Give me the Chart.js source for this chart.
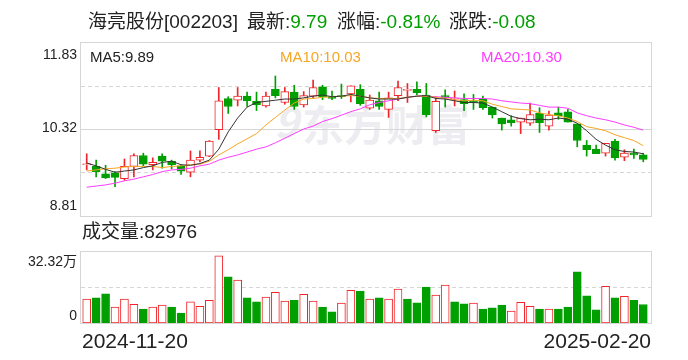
<!DOCTYPE html>
<html>
<head>
<meta charset="utf-8">
<script src="https://cdn.jsdelivr.net/npm/chart.js@4.4.1/dist/chart.umd.min.js"></script>
<style>
  body { margin: 0; background: #fff; }
  #wrap { position: relative; width: 688px; height: 360px; }
  canvas { position: absolute; left: 0; top: 0; }
</style>
</head>
<body>
<div id="wrap">
  <canvas id="kline" width="688" height="360"></canvas>
  <canvas id="vol" width="688" height="360"></canvas>
</div>
<script>
// 日付（60営業日）
const dates = [
  '2024-11-20','2024-11-21','2024-11-22','2024-11-25','2024-11-26','2024-11-27','2024-11-28','2024-11-29',
  '2024-12-02','2024-12-03','2024-12-04','2024-12-05','2024-12-06','2024-12-09','2024-12-10','2024-12-11',
  '2024-12-12','2024-12-13','2024-12-16','2024-12-17','2024-12-18','2024-12-19','2024-12-20','2024-12-23',
  '2024-12-24','2024-12-25','2024-12-26','2024-12-27','2024-12-30','2024-12-31','2025-01-02','2025-01-03',
  '2025-01-06','2025-01-07','2025-01-08','2025-01-09','2025-01-10','2025-01-13','2025-01-14','2025-01-15',
  '2025-01-16','2025-01-17','2025-01-20','2025-01-21','2025-01-22','2025-01-23','2025-01-24','2025-01-27',
  '2025-02-05','2025-02-06','2025-02-07','2025-02-10','2025-02-11','2025-02-12','2025-02-13','2025-02-14',
  '2025-02-17','2025-02-18','2025-02-19','2025-02-20'
];

const opens = [
  9.70, 9.67, 9.54, 9.56, 9.46, 9.67, 9.86, 9.70, 9.85, 9.76,
  9.68, 9.57, 9.78, 9.85, 10.31, 10.85, 10.82, 10.89, 10.80, 10.72,
  11.01, 10.78, 10.96, 10.74, 10.89, 11.05, 10.88, 10.90, 10.93, 11.01,
  10.68, 10.81, 10.66, 10.90, 10.99, 11.01, 10.91, 10.29, 10.90, 10.84,
  10.83, 10.81, 10.84, 10.70, 10.51, 10.48, 10.44, 10.42, 10.59, 10.37,
  10.60, 10.62, 10.41, 10.04, 9.97, 9.90, 10.11, 9.83, 9.90, 9.87
];
const highs = [
  9.89, 9.78, 9.69, 9.58, 9.80, 9.89, 9.90, 9.82, 9.89, 9.78,
  9.70, 9.94, 9.94, 10.12, 11.04, 10.88, 11.04, 10.96, 10.96, 10.96,
  11.24, 11.04, 11.08, 10.97, 11.17, 11.08, 10.98, 11.10, 11.07, 11.09,
  10.91, 10.96, 10.96, 11.15, 11.11, 11.14, 11.11, 10.88, 11.00, 10.98,
  10.93, 10.92, 10.89, 10.70, 10.51, 10.55, 10.51, 10.77, 10.69, 10.63,
  10.70, 10.66, 10.41, 10.12, 10.04, 10.07, 10.14, 9.96, 9.97, 9.90
];
const lows = [
  9.61, 9.49, 9.46, 9.32, 9.43, 9.49, 9.68, 9.61, 9.64, 9.63,
  9.53, 9.49, 9.75, 9.84, 10.14, 10.59, 10.72, 10.71, 10.64, 10.70,
  10.86, 10.75, 10.66, 10.70, 10.86, 10.83, 10.83, 10.85, 10.79, 10.73,
  10.66, 10.66, 10.52, 10.81, 10.78, 10.91, 10.53, 10.26, 10.70, 10.72,
  10.64, 10.66, 10.66, 10.51, 10.30, 10.37, 10.24, 10.38, 10.26, 10.30,
  10.49, 10.44, 10.01, 9.85, 9.89, 9.85, 9.78, 9.77, 9.81, 9.75
];
const closes = [
  9.71, 9.58, 9.47, 9.48, 9.67, 9.86, 9.71, 9.74, 9.76, 9.70,
  9.59, 9.78, 9.83, 10.11, 10.81, 10.71, 10.89, 10.81, 10.74, 10.89,
  10.90, 10.97, 10.71, 10.90, 11.04, 10.88, 10.85, 10.88, 11.07, 10.76,
  10.82, 10.71, 10.86, 11.04, 11.01, 10.95, 10.57, 10.80, 10.87, 10.85,
  10.76, 10.78, 10.69, 10.57, 10.41, 10.43, 10.51, 10.57, 10.43, 10.56,
  10.55, 10.44, 10.12, 9.96, 9.89, 10.07, 9.82, 9.90, 9.87, 9.79
];

const ma5 = [
  9.73, 9.68, 9.62, 9.57, 9.59, 9.61, 9.65, 9.68, 9.74, 9.76,
  9.70, 9.69, 9.72, 9.78, 9.97, 10.27, 10.51, 10.70, 10.78, 10.80,
  10.82, 10.84, 10.84, 10.86, 10.89, 10.91, 10.88, 10.89, 10.92, 10.89,
  10.86, 10.84, 10.84, 10.84, 10.87, 10.89, 10.90, 10.85, 10.84, 10.81,
  10.78, 10.78, 10.77, 10.70, 10.62, 10.54, 10.50, 10.48, 10.49, 10.48,
  10.51, 10.49, 10.42, 10.29, 10.14, 10.04, 9.96, 9.93, 9.92, 9.89
];
const ma10 = [
  9.59, 9.61, 9.63, 9.64, 9.66, 9.67, 9.67, 9.67, 9.65, 9.67,
  9.68, 9.70, 9.71, 9.76, 9.87, 9.96, 10.06, 10.15, 10.24, 10.39,
  10.52, 10.65, 10.77, 10.84, 10.85, 10.87, 10.88, 10.89, 10.90, 10.89,
  10.86, 10.85, 10.85, 10.85, 10.87, 10.89, 10.89, 10.87, 10.85, 10.83,
  10.81, 10.82, 10.81, 10.75, 10.71, 10.67, 10.66, 10.65, 10.60, 10.57,
  10.55, 10.51, 10.45, 10.36, 10.33, 10.29, 10.22, 10.17, 10.12, 10.03
];
const ma20 = [
  9.31, 9.33, 9.35, 9.38, 9.42, 9.45, 9.49, 9.53, 9.58, 9.61,
  9.62, 9.64, 9.68, 9.71, 9.78, 9.83, 9.87, 9.92, 9.97, 10.01,
  10.08, 10.16, 10.24, 10.32, 10.37, 10.45, 10.50, 10.56, 10.62, 10.67,
  10.74, 10.78, 10.81, 10.84, 10.87, 10.89, 10.89, 10.88, 10.87, 10.86,
  10.85, 10.85, 10.85, 10.84, 10.81, 10.79, 10.77, 10.76, 10.73, 10.70,
  10.70, 10.68, 10.60, 10.55, 10.51, 10.48, 10.44, 10.39, 10.35, 10.30
];

// 成交量（万手）
const volumes = [
  10.7, 11.3, 13.1, 7.1, 10.7, 8.4, 6.2, 7.1, 8.0, 7.1,
  4.5, 9.5, 7.5, 10.2, 30.2, 20.7, 19.3, 11.3, 9.5, 11.6,
  13.8, 9.8, 10.2, 12.9, 9.8, 7.1, 5.0, 8.9, 14.7, 14.3,
  10.7, 11.3, 10.7, 15.2, 10.7, 9.0, 16.1, 12.5, 17.0, 9.5,
  8.6, 8.9, 6.3, 6.8, 8.0, 5.3, 9.3, 7.5, 6.3, 6.2,
  6.3, 7.2, 23.0, 12.2, 5.9, 16.5, 11.3, 12.0, 10.2, 8.3
];

const priceTicks = [8.81, 10.32, 11.83];
const volTicks = [0, 32.32];
const dateTicks = ['2024-11-20', '2025-02-20'];

const stockName = '海亮股份[002203]';
const latest = '9.79';
const changePct = '-0.81%';
const change = '-0.08';
const latestVolume = 82976;

const RED = '#f0252a';
const GREEN = '#009f00';
const GRID = '#d6d6d6';
const FONT = '"Liberation Sans", "Noto Sans CJK SC", sans-serif';

const candleUp = closes.map((c, i) => c >= opens[i]);
const volUp = closes.map((c, i) => i === 0 ? c >= opens[0] : c >= closes[i - 1]);

function drawFrame(ctx, area) {
    ctx.save();
    ctx.strokeStyle = GRID;
    ctx.lineWidth = 1;
    ctx.strokeRect(area.left - 1.5, area.top + 0.5, area.right - area.left + 5, area.bottom - area.top);
    ctx.restore();
}

function hLine(ctx, area, y, dashed) {
    ctx.save();
    ctx.strokeStyle = GRID;
    ctx.lineWidth = 1;
    if (dashed) ctx.setLineDash([4, 3]);
    ctx.beginPath();
    ctx.moveTo(area.left - 1, Math.round(y) + 0.5);
    ctx.lineTo(area.right + 3, Math.round(y) + 0.5);
    ctx.stroke();
    ctx.restore();
}

// K線の背景（ウォーターマーク・グリッド）と文字
const klineDecor = {
    id: 'klineDecor',
    beforeDatasetsDraw(chart) {
        const ctx = chart.ctx;
        const area = chart.chartArea;
        const y = chart.scales.y;

        // 东方财富 ウォーターマーク
        ctx.save();
        ctx.fillStyle = 'rgba(200,200,212,0.32)';
        ctx.font = 'bold 42px "Noto Sans CJK SC"';
        ctx.textBaseline = 'middle';
        ctx.fillText('东方财富', 302, 125);
        ctx.font = 'bold italic 42px "Noto Sans CJK SC"';
        ctx.fillText('9', 274, 122);
        ctx.restore();

        hLine(ctx, area, y.getPixelForValue((priceTicks[1] + priceTicks[2]) / 2), true);
        hLine(ctx, area, y.getPixelForValue(priceTicks[1]), false);
        hLine(ctx, area, y.getPixelForValue((priceTicks[0] + priceTicks[1]) / 2), true);
        drawFrame(ctx, area);
    },
    afterDraw(chart) {
        const ctx = chart.ctx;
        const area = chart.chartArea;
        ctx.save();
        ctx.textBaseline = 'middle';

        // タイトル
        ctx.font = '19px ' + FONT;
        const parts = [
            [stockName, '#222', 88], ['最新:', '#222', 247], [latest, GREEN, null],
            ['涨幅:', '#222', 337], [changePct, GREEN, null],
            ['涨跌:', '#222', 449], [change, GREEN, null]
        ];
        let x = 0;
        parts.forEach(([t, c, px]) => {
            if (px !== null) x = px;
            ctx.fillStyle = c;
            ctx.fillText(t, x, 23);
            x += ctx.measureText(t).width;
        });

        // 価格の目盛
        ctx.font = '14px ' + FONT;
        ctx.fillStyle = '#222';
        ctx.textAlign = 'right';
        ctx.fillText(priceTicks[2].toFixed(2), 77, area.top + 13);
        ctx.fillText(priceTicks[1].toFixed(2), 77, chart.scales.y.getPixelForValue(priceTicks[1]) - 1);
        ctx.fillText(priceTicks[0].toFixed(2), 77, area.bottom - 10);

        // MA 凡例
        ctx.textAlign = 'left';
        ctx.font = '15px ' + FONT;
        ctx.fillStyle = '#222';
        ctx.fillText('MA5:' + ma5[ma5.length - 1].toFixed(2), 90, 58);
        ctx.fillStyle = '#f5a623';
        ctx.fillText('MA10:' + ma10[ma10.length - 1].toFixed(2), 280, 58);
        ctx.fillStyle = '#ff3cff';
        ctx.fillText('MA20:' + ma20[ma20.length - 1].toFixed(2), 481, 58);
        ctx.restore();
    }
};

const volDecor = {
    id: 'volDecor',
    beforeDatasetsDraw(chart) {
        const ctx = chart.ctx;
        const area = chart.chartArea;
        hLine(ctx, area, chart.scales.y.getPixelForValue(volTicks[1] / 2), true);
        drawFrame(ctx, area);
    },
    afterDraw(chart) {
        const ctx = chart.ctx;
        const area = chart.chartArea;
        ctx.save();
        ctx.textBaseline = 'middle';
        ctx.fillStyle = '#222';

        ctx.font = '19px ' + FONT;
        ctx.fillText('成交量:' + latestVolume, 82, 233);

        ctx.font = '14px ' + FONT;
        ctx.textAlign = 'right';
        ctx.fillText(volTicks[1].toFixed(2) + '万', 77, area.top + 11);
        ctx.fillText(String(volTicks[0]), 77, area.bottom - 7);

        ctx.font = '21px ' + FONT;
        ctx.textAlign = 'left';
        ctx.fillText(dateTicks[0], 82, 342);
        ctx.textAlign = 'right';
        ctx.fillText(dateTicks[1], area.right + 3, 342);
        ctx.restore();
    }
};

const baseOptions = (padding, yMin, yMax) => ({
    responsive: false,
    animation: false,
    devicePixelRatio: 1,
    layout: { padding: padding },
    plugins: { legend: { display: false }, tooltip: { enabled: false } },
    scales: {
        x: { type: 'category', display: false, offset: true },
        y: { display: false, min: yMin, max: yMax }
    }
});

const maLine = (data, color) => ({
    type: 'line',
    data: data,
    borderColor: color,
    borderWidth: 1,
    pointRadius: 0,
    tension: 0,
    order: -1
});

new Chart(document.getElementById('kline'), {
    type: 'bar',
    data: {
        labels: dates,
        datasets: [
            maLine(ma5, '#333'),
            maLine(ma10, '#f5a623'),
            maLine(ma20, '#ff3cff'),
            {
                data: opens.map((o, i) => [o, closes[i]]),
                backgroundColor: candleUp.map(u => u ? '#fff' : GREEN),
                borderColor: candleUp.map(u => u ? RED : GREEN),
                borderWidth: 1,
                borderSkipped: false,
                barThickness: 8,
                minBarLength: 1,
                grouped: false,
                order: 1
            },
            {
                data: lows.map((l, i) => [l, highs[i]]),
                backgroundColor: candleUp.map(u => u ? RED : GREEN),
                borderWidth: 0,
                barThickness: 1,
                grouped: false,
                order: 2
            }
        ]
    },
    options: baseOptions({ left: 82, right: 40, top: 42, bottom: 144 }, priceTicks[0], priceTicks[2]),
    plugins: [klineDecor]
});

new Chart(document.getElementById('vol'), {
    type: 'bar',
    data: {
        labels: dates,
        datasets: [{
            data: volumes,
            backgroundColor: volUp.map(u => u ? '#fff' : GREEN),
            borderColor: volUp.map(u => u ? RED : GREEN),
            borderWidth: 1,
            borderSkipped: false,
            barThickness: 8
        }]
    },
    options: baseOptions({ left: 82, right: 40, top: 251, bottom: 37 }, volTicks[0], volTicks[1]),
    plugins: [volDecor]
});
</script>
</body>
</html>
